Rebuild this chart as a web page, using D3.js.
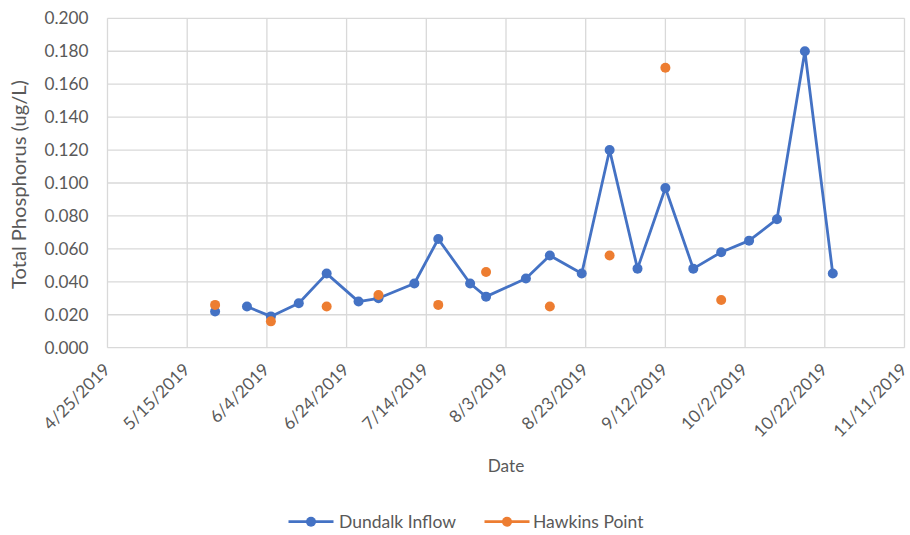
<!DOCTYPE html>
<html>
<head>
<meta charset="utf-8">
<script src="https://cdn.jsdelivr.net/npm/d3@7"></script>
<style>
  html, body { margin: 0; padding: 0; background: #fff; }
  svg { display: block; }
  text { font-family: "Lato", "Liberation Sans", sans-serif; fill: #595959; }
</style>
</head>
<body>
<svg id="chart" width="910" height="535"></svg>
<script>
// ---- data ----
const dates = ["2019-05-22","2019-05-26","2019-05-30","2019-06-05","2019-06-12","2019-06-19",
  "2019-06-27","2019-07-02","2019-07-11","2019-07-17","2019-07-25","2019-07-29",
  "2019-08-08","2019-08-14","2019-08-22","2019-08-29","2019-09-05","2019-09-12",
  "2019-09-19","2019-09-26","2019-10-03","2019-10-10","2019-10-17","2019-10-24"];
const dundalkInflow = [0.022, null, 0.025, 0.019, 0.027, 0.045, 0.028, 0.030, 0.039, 0.066,
  0.039, 0.031, 0.042, 0.056, 0.045, 0.120, 0.048, 0.097, 0.048, 0.058, 0.065, 0.078, 0.180, 0.045];
const hawkinsPoint = [0.026, null, null, 0.016, null, 0.025, null, 0.032, null, 0.026,
  null, 0.046, null, 0.025, null, 0.056, null, 0.170, null, 0.029, null, null, null, null];
const seriesNames = ["Dundalk Inflow", "Hawkins Point"];
const seriesColors = ["#4472C4", "#ED7D31"];
const xTickDates = ["2019-04-25","2019-05-15","2019-06-04","2019-06-24","2019-07-14","2019-08-03",
  "2019-08-23","2019-09-12","2019-10-02","2019-10-22","2019-11-11"];
const yTicks = [0, 0.02, 0.04, 0.06, 0.08, 0.10, 0.12, 0.14, 0.16, 0.18, 0.20];
const xTitle = "Date";
const yTitle = "Total Phosphorus (ug/L)";

// ---- layout ----
const FONT = '"Lato", "Liberation Sans", sans-serif';
const parse = d3.utcParse("%Y-%m-%d");
const fmt = d => `${d.getUTCMonth()+1}/${d.getUTCDate()}/${d.getUTCFullYear()}`;
const plot = { left: 107.5, right: 904.5, top: 18.3, bottom: 347.7 };

const svg = d3.select("#chart");

// font size giving a string a target width
function fitSize(str, targetW) {
  const t = svg.append("text").attr("font-size", 20).style("font-family", FONT).text(str);
  const w = t.node().getComputedTextLength();
  t.remove();
  return 20 * targetW / w;
}
const tickFS = fitSize("0.200", 44);
const yTitleFS = fitSize(yTitle, 209);
const legendFS = fitSize(seriesNames[0], 117);

const x = d3.scaleUtc()
  .domain([parse(xTickDates[0]), parse(xTickDates[xTickDates.length-1])])
  .range([plot.left, plot.right]);
const y = d3.scaleLinear().domain([0, 0.2]).range([plot.bottom, plot.top]);

// gridlines
const grid = svg.append("g");
grid.selectAll("line.h").data(yTicks).join("line")
  .attr("x1", plot.left).attr("x2", plot.right)
  .attr("y1", d => y(d)).attr("y2", d => y(d))
  .attr("stroke", "#d9d9d9").attr("stroke-width", 1.3);
grid.selectAll("line.v").data(xTickDates.map(parse)).join("line")
  .attr("x1", d => x(d)).attr("x2", d => x(d))
  .attr("y1", plot.top).attr("y2", plot.bottom)
  .attr("stroke", "#d9d9d9").attr("stroke-width", 1.3);

// y axis labels
const yAxis = svg.append("g").attr("transform", `translate(${plot.left},0)`)
  .call(d3.axisLeft(y).tickValues(yTicks).tickFormat(d3.format(".3f")).tickSize(0).tickPadding(19));
yAxis.select(".domain").remove();
yAxis.selectAll("text").attr("font-size", tickFS).attr("fill", "#595959")
  .style("font-family", FONT);

// x axis labels
const xAxis = svg.append("g").attr("transform", `translate(0,${plot.bottom})`)
  .call(d3.axisBottom(x).tickValues(xTickDates.map(parse)).tickFormat(fmt).tickSize(0));
xAxis.select(".domain").remove();
xAxis.selectAll("text")
  .attr("font-size", tickFS).attr("fill", "#595959")
  .style("font-family", FONT)
  .attr("text-anchor", "end")
  .attr("dy", null).attr("y", 0)
  .attr("transform", "translate(3,23) rotate(-45)");

// axis titles
svg.append("text").attr("x", (plot.left+plot.right)/2).attr("y", 472)
  .attr("text-anchor", "middle").attr("font-size", tickFS).text(xTitle);
svg.append("text")
  .attr("transform", `translate(26,${(80+289)/2}) rotate(-90)`)
  .attr("text-anchor", "middle").attr("font-size", yTitleFS).text(yTitle);

// series
const rows = dates.map((d, i) => ({ date: parse(d), v: [dundalkInflow[i], hawkinsPoint[i]] }));
const line = k => d3.line().defined(r => r.v[k] != null).x(r => x(r.date)).y(r => y(r.v[k]));
[0, 1].forEach(k => {
  const g = svg.append("g");
  g.append("path").datum(rows).attr("d", line(k))
    .attr("fill", "none").attr("stroke", seriesColors[k]).attr("stroke-width", 2.8)
    .attr("stroke-linejoin", "round");
  g.selectAll("circle").data(rows.filter(r => r.v[k] != null)).join("circle")
    .attr("cx", r => x(r.date)).attr("cy", r => y(r.v[k])).attr("r", 5)
    .attr("fill", seriesColors[k]);
});

// legend
const legendY = 521.7;
const legendItems = [{ x0: 288.5, tx: 339 }, { x0: 484.5, tx: 533 }];
seriesNames.forEach((name, k) => {
  const li = legendItems[k];
  svg.append("line").attr("x1", li.x0).attr("x2", li.x0 + 45)
    .attr("y1", legendY).attr("y2", legendY)
    .attr("stroke", seriesColors[k]).attr("stroke-width", 2.8);
  svg.append("circle").attr("cx", li.x0 + 22.5).attr("cy", legendY).attr("r", 5)
    .attr("fill", seriesColors[k]);
  svg.append("text").attr("x", li.tx).attr("y", legendY).attr("dy", "0.35em")
    .attr("font-size", legendFS).text(name);
});
</script>
</body>
</html>
